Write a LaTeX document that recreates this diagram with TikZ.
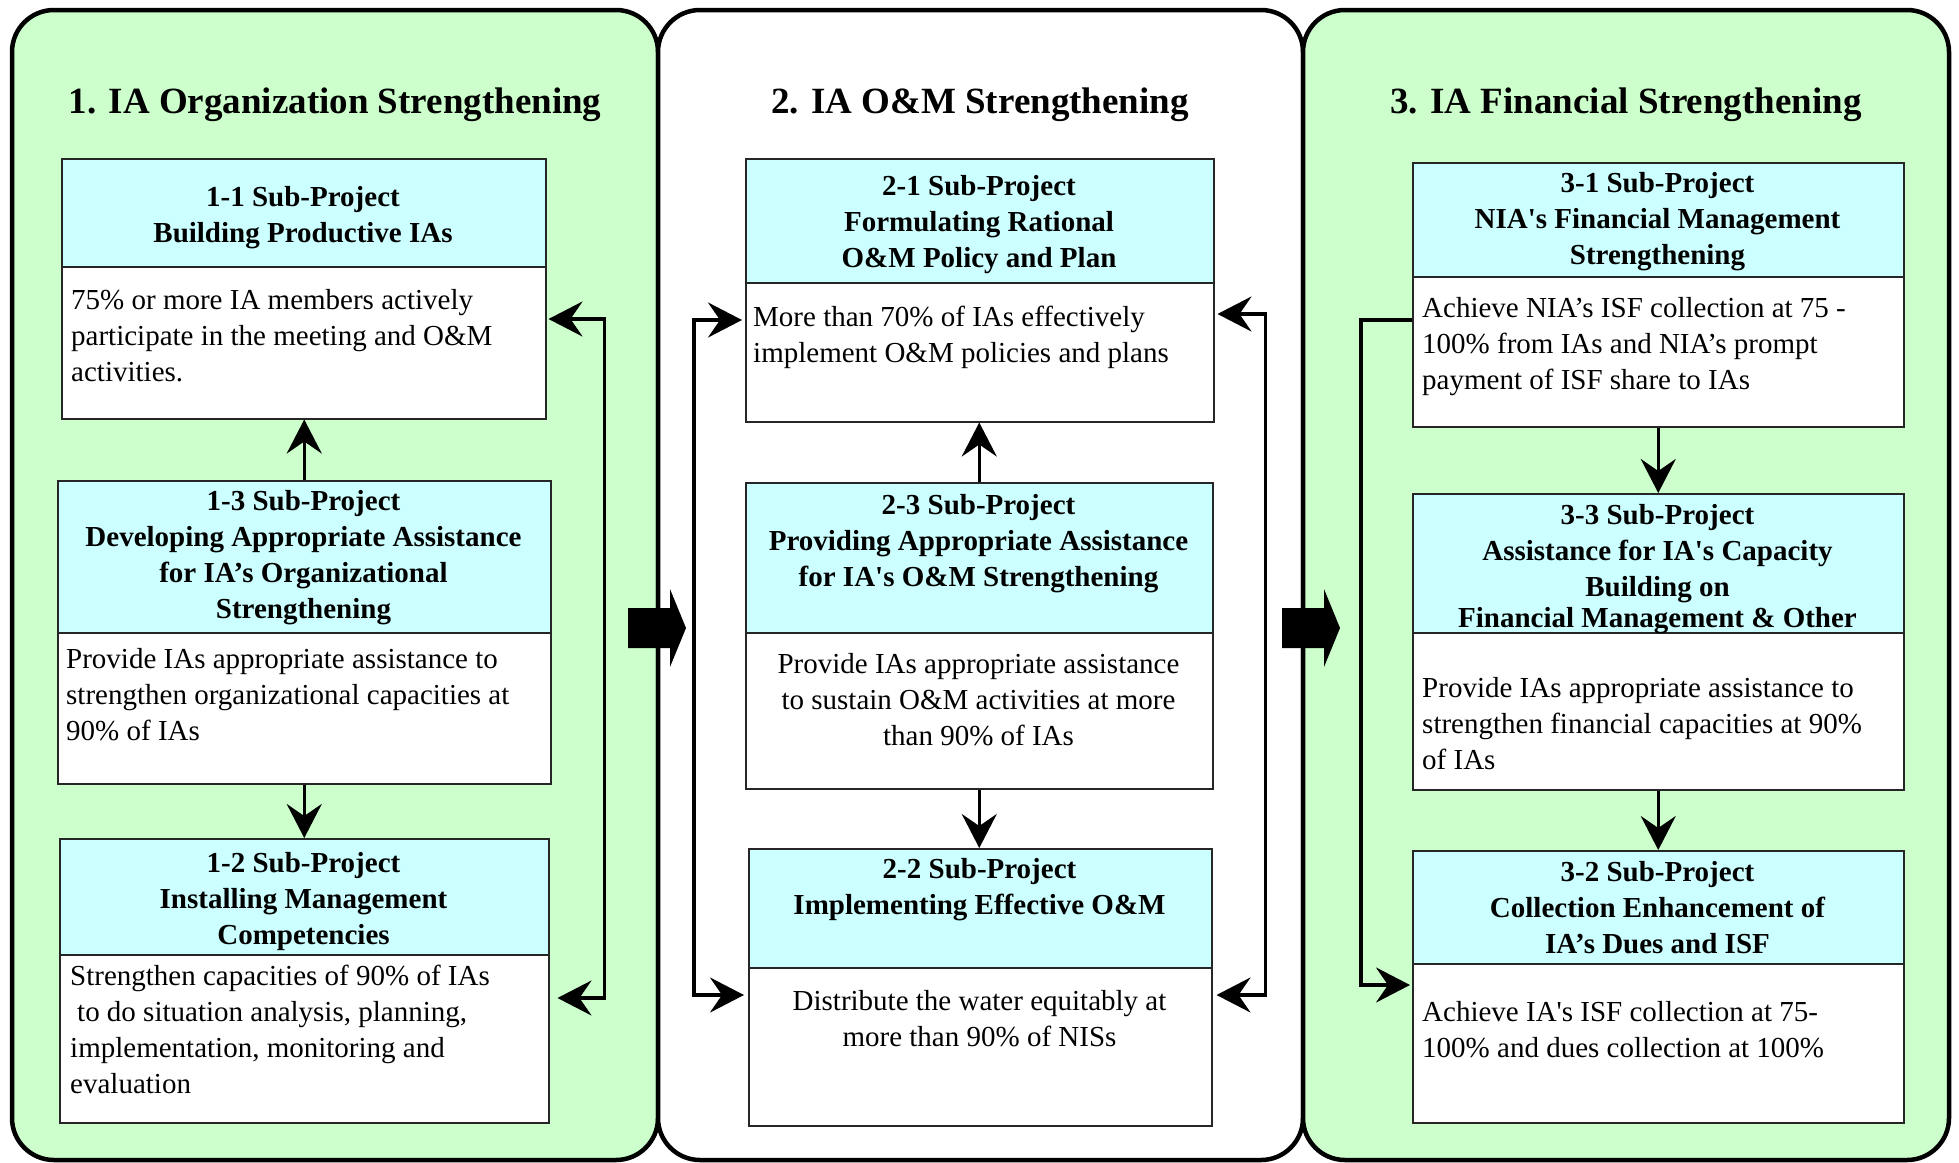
\documentclass[tikz,border=0pt]{standalone}
\usepackage{fontspec}
\setmainfont{Liberation Serif}[Ligatures=TeXOff]
\usetikzlibrary{arrows.meta}
\definecolor{panelgreen}{RGB}{204,255,204}
\definecolor{hdrcyan}{RGB}{204,255,255}
\begin{document}
\begin{tikzpicture}[x=1pt,y=-1pt,
  >={Stealth[length=34pt,width=35pt,inset=12pt]},
  panel/.style={draw=black, line width=4.5pt, rounded corners=42pt},
  hdr/.style={draw=black!85, line width=1.5pt, fill=hdrcyan, anchor=north west, inner sep=0pt},
  hdrtxt/.style={anchor=north, inner sep=0pt, align=center, font=\bfseries\fontsize{29}{36}\selectfont},
  bodybox/.style={draw=black!85, line width=1.5pt, fill=white, anchor=north west, inner sep=0pt},
  bodytxt/.style={inner sep=0pt, font=\fontsize{29}{36}\selectfont},
  ttl/.style={anchor=base, font=\bfseries\fontsize{37}{44}\selectfont},
  link/.style={line width=3.5pt, ->},
  dlink/.style={line width=3.5pt, <->},
  blockarrow/.style={fill=black}]
\useasboundingbox (0,0) rectangle (1959,1162);

% three panels
\draw[panel, fill=panelgreen] (12,10) rectangle (658,1160);
\draw[panel, fill=white] (658,10) rectangle (1303,1160);
\draw[panel, fill=panelgreen] (1303,10) rectangle (1949,1160);

% panel titles
\node[ttl] (ttl1) at (335,113) {1. IA Organization Strengthening};
\node[ttl] (ttl2) at (980,113) {2. IA O\&M Strengthening};
\node[ttl] (ttl3) at (1626,113) {3. IA Financial Strengthening};

% ---------- column 1 ----------
\node[bodybox, minimum width=484pt, minimum height=152pt] (b11) at (61,266) {};
\node[hdr, minimum width=484pt, minimum height=108pt] (h11) at (61,158) {};
\node[hdrtxt] (ht11) at (303,186) {1-1 Sub-Project\\Building Productive IAs};
\node[bodytxt, anchor=north west, align=left] (t11) at (71,289)
  {75\% or more IA members actively\\participate in the meeting and O\&M\\activities.};

\node[bodybox, minimum width=493pt, minimum height=151pt] (b13) at (57,632) {};
\node[hdr, minimum width=493pt, minimum height=152pt] (h13) at (57,480) {};
\node[hdrtxt] (ht13) at (303.5,490)
  {1-3 Sub-Project\\Developing Appropriate Assistance\\for IA’s Organizational\\Strengthening};
\node[bodytxt, anchor=north west, align=left] (t13) at (66,648)
  {Provide IAs appropriate assistance to\\strengthen organizational capacities at\\90\% of IAs};

\node[bodybox, minimum width=489pt, minimum height=168pt] (b12) at (59,954) {};
\node[hdr, minimum width=489pt, minimum height=116pt] (h12) at (59,838) {};
\node[hdrtxt] (ht12) at (303.5,852) {1-2 Sub-Project\\Installing Management\\Competencies};
\node[bodytxt, anchor=north west, align=left] (t12) at (70,965)
  {Strengthen capacities of 90\% of IAs\\\hspace*{7pt}to do situation analysis, planning,\\implementation, monitoring and\\evaluation};

% ---------- column 2 ----------
\node[bodybox, minimum width=468pt, minimum height=139pt] (b21) at (745,282) {};
\node[hdr, minimum width=468pt, minimum height=124pt] (h21) at (745,158) {};
\node[hdrtxt] (ht21) at (979,175) {2-1 Sub-Project\\Formulating Rational\\O\&M Policy and Plan};
\node[bodytxt, anchor=north west, align=left] (t21) at (753,306)
  {More than 70\% of IAs effectively\\implement O\&M policies and plans};

\node[bodybox, minimum width=467pt, minimum height=156pt] (b23) at (745,632) {};
\node[hdr, minimum width=467pt, minimum height=150pt] (h23) at (745,482) {};
\node[hdrtxt] (ht23) at (978.5,494)
  {2-3 Sub-Project\\Providing Appropriate Assistance\\for IA's O\&M Strengthening};
\node[bodytxt, anchor=north, align=center] (t23) at (978.5,653)
  {Provide IAs appropriate assistance\\to sustain O\&M activities at more\\than 90\% of IAs};

\node[bodybox, minimum width=463pt, minimum height=158pt] (b22) at (748,967) {};
\node[hdr, minimum width=463pt, minimum height=119pt] (h22) at (748,848) {};
\node[hdrtxt] (ht22) at (979.5,858) {2-2 Sub-Project\\Implementing Effective O\&M};
\node[bodytxt, anchor=north, align=center] (t22) at (979.5,990)
  {Distribute the water equitably at\\more than 90\% of NISs};

% ---------- column 3 ----------
\node[bodybox, minimum width=491pt, minimum height=150pt] (b31) at (1412,276) {};
\node[hdr, minimum width=491pt, minimum height=114pt] (h31) at (1412,162) {};
\node[hdrtxt] (ht31) at (1657.5,172) {3-1 Sub-Project\\NIA's Financial Management\\Strengthening};
\node[bodytxt, anchor=north west, align=left] (t31) at (1422,297)
  {Achieve NIA’s ISF collection at 75 -\\100\% from IAs and NIA’s prompt\\payment of ISF share to IAs};

\node[bodybox, minimum width=491pt, minimum height=157pt] (b33) at (1412,632) {};
\node[hdr, minimum width=491pt, minimum height=139pt] (h33) at (1412,493) {};
\node[hdrtxt] (ht33) at (1657.5,504)
  {3-3 Sub-Project\\Assistance for IA's Capacity\\Building on\\[-5pt]Financial Management \& Other};
\node[bodytxt, anchor=north west, align=left] (t33) at (1422,677)
  {Provide IAs appropriate assistance to\\strengthen financial capacities at 90\%\\of IAs};

\node[bodybox, minimum width=491pt, minimum height=159pt] (b32) at (1412,963) {};
\node[hdr, minimum width=491pt, minimum height=113pt] (h32) at (1412,850) {};
\node[hdrtxt] (ht32) at (1657.5,861) {3-2 Sub-Project\\Collection Enhancement of\\IA’s Dues and ISF};
\node[bodytxt, anchor=north west, align=left] (t32) at (1422,1001)
  {Achieve IA's ISF collection at 75-\\100\% and dues collection at 100\%};

% ---------- connectors ----------
% column 1
\draw[link] (h13.north) -- (h13.north |- b11.south);
\draw[link] (b13.south) -- (b13.south |- h12.north);
\coordinate (c1a) at ([xshift=2pt]b11.east |- 0,319);
\coordinate (c1b) at ([xshift=8pt]b12.east |- 0,998);
\draw[dlink] (c1a) -- ++(56,0) |- (c1b);

% column 2
\draw[link] (h23.north) -- (h23.north |- b21.south);
\draw[link] (b23.south) -- (b23.south |- h22.north);
\coordinate (c2a) at ([xshift=-3pt]b21.west |- 0,320);
\coordinate (c2b) at ([xshift=-4pt]b22.west |- 0,995);
\draw[dlink] (c2a) -- ++(-48,0) |- (c2b);
\coordinate (c2c) at ([xshift=3pt]b21.east |- 0,314);
\coordinate (c2d) at ([xshift=4pt]b22.east |- 0,995);
\draw[dlink] (c2c) -- ++(48,0) |- (c2d);

% column 3
\draw[link] (b31.south) -- (b31.south |- h33.north);
\draw[link] (b33.south) -- (b33.south |- h32.north);
\coordinate (c3a) at (b31.west |- 0,320);
\coordinate (c3b) at ([xshift=-2pt]b32.west |- 0,985);
\draw[link] (c3a) -- ++(-51,0) |- (c3b);

% block arrows between panels
\fill[blockarrow] (628,608) -- (670,608) -- (670,589) -- (686,628) -- (670,667)
  -- (670,648) -- (628,648) -- cycle;
\fill[blockarrow] (1282,608) -- (1324,608) -- (1324,589) -- (1340,628) -- (1324,667)
  -- (1324,648) -- (1282,648) -- cycle;
\end{tikzpicture}
\end{document}
